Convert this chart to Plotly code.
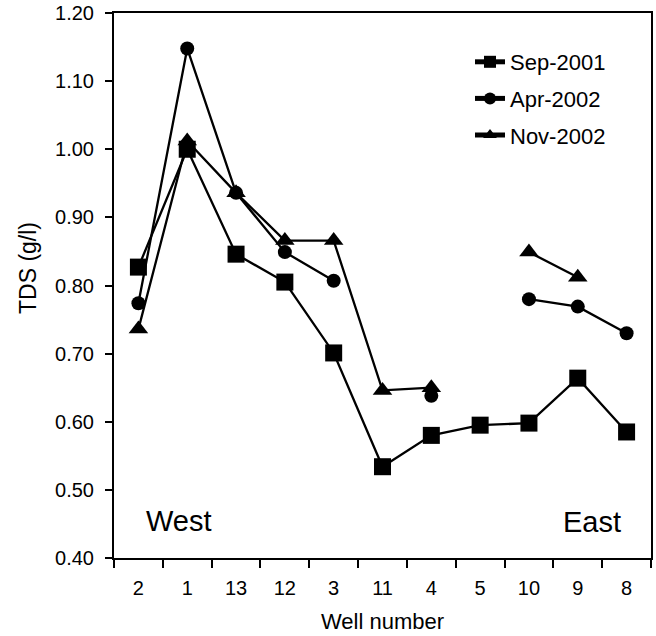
import plotly.graph_objects as go

wells = ["2", "1", "13", "12", "3", "11", "4", "5", "10", "9", "8"]
sep_2001 = [0.827, 1.000, 0.846, 0.805, 0.701, 0.534, 0.580, 0.595, 0.598, 0.664, 0.585]
apr_2002 = [0.774, 1.148, 0.936, 0.849, 0.807, None, 0.638, None, 0.780, 0.769, 0.730]
nov_2002 = [0.736, 1.012, 0.936, 0.866, 0.866, 0.646, 0.650, None, 0.849, 0.812, None]

series = [
    ("Sep-2001", sep_2001, "square", 17),
    ("Apr-2002", apr_2002, "circle", 14),
    ("Nov-2002", nov_2002, "triangle-up", 17),
]

FONT = "Liberation Sans, Arial, sans-serif"
W, H = 656, 636
PL, PT, PR, PB = 114, 13, 651, 558  # plot-area edges in pixels
L, T = PL, PT
pw, ph = PR - PL, PB - PT
R = W - L - pw
B = H - T - ph


def px(xa):
    return (xa - PL) / pw


def py(ya):
    return (PB - ya) / ph


fig = go.Figure()
for i, (name, vals, sym, sz) in enumerate(series):
    fig.add_trace(go.Scatter(
        x=wells, y=vals, name=name, mode="lines+markers",
        line=dict(color="black", width=2.3),
        marker=dict(symbol=sym, size=sz, color="black"),
        connectgaps=False, legendgroup=f"g{i}",
    ))

fig.update_layout(
    width=W, height=H,
    margin=dict(l=L, r=R, t=T, b=B, autoexpand=False),
    paper_bgcolor="white", plot_bgcolor="white",
    font=dict(family=FONT, color="black", size=20),
    showlegend=True,
    legend=dict(
        x=px(470), y=py(41), xanchor="left", yanchor="top",
        font=dict(size=22, family=FONT), bgcolor="rgba(0,0,0,0)",
        tracegroupgap=5, itemsizing="constant",
    ),
    xaxis=dict(
        type="category", range=[-0.5, 10.5], automargin=False,
        showline=True, linecolor="black", linewidth=2, mirror=True,
        ticks="outside", tickson="boundaries", ticklen=8, tickwidth=1.5, tickcolor="black",
        showgrid=False, zeroline=False, ticklabelstandoff=11,
        tickfont=dict(size=20, family=FONT),
        title=dict(text="Well number", font=dict(size=22, family=FONT), standoff=16),
    ),
    yaxis=dict(
        range=[0.4, 1.2], dtick=0.1, tick0=0.4, tickformat=".2f", automargin=False,
        showline=True, linecolor="black", linewidth=2, mirror=True,
        ticks="outside", ticklen=7, tickwidth=1.5, tickcolor="black",
        showgrid=False, zeroline=False, ticklabelstandoff=7,
        ticklabeloverflow="allow",
        tickfont=dict(size=20, family=FONT),
    ),
    annotations=[
        dict(text="TDS (g/l)", textangle=-90, xref="paper", yref="paper",
             x=px(28), y=py(268), xanchor="center", yanchor="middle", showarrow=False,
             font=dict(size=23, family=FONT)),
        dict(text="West", xref="paper", yref="paper",
             x=px(179), y=py(521), xanchor="center", yanchor="middle", showarrow=False,
             font=dict(size=29, family=FONT)),
        dict(text="East", xref="paper", yref="paper",
             x=px(592), y=py(522), xanchor="center", yanchor="middle", showarrow=False,
             font=dict(size=29, family=FONT)),
    ],
)

fig.write_html("out.html", config={"displayModeBar": False},
               post_script="document.body.style.margin='0px';")
